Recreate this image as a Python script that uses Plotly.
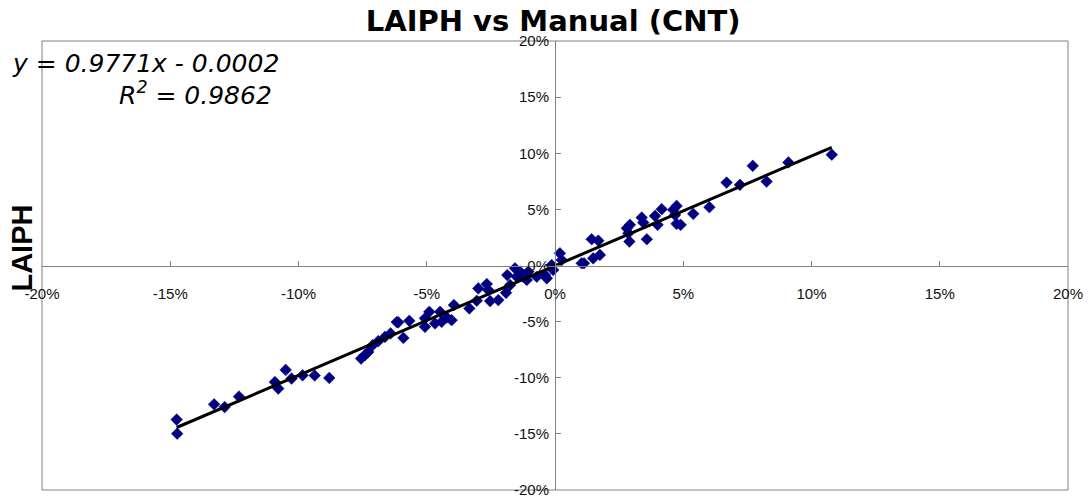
import numpy as np
import plotly.graph_objects as go

# Manual (CNT) vs LAIPH, values in percent
manual_pct = [-14.75, -14.73, -13.29, -12.88, -12.32, -10.92, -10.79, -10.50, -10.27, -9.84,
              -9.37, -8.80, -7.56, -7.41, -7.28, -7.11, -6.89, -6.63, -6.41, -6.17,
              -6.11, -5.91, -5.68, -5.07, -5.07, -4.90, -4.68, -4.48, -4.42, -4.22,
              -4.03, -3.94, -3.34, -3.05, -2.99, -2.66, -2.60, -2.53, -2.21, -1.91,
              -1.86, -1.75, -1.56, -1.49, -1.36, -1.24, -1.10, -1.04, -0.71, -0.39,
              -0.32, -0.13, -0.07, 0.19, 0.26, 1.04, 1.13, 1.43, 1.69, 1.49,
              1.75, 2.80, 2.92, 2.90, 2.86, 3.38, 3.44, 3.58, 3.90, 4.00,
              4.16, 4.61, 4.68, 4.74, 4.74, 4.90, 5.39, 6.02, 6.69, 7.21,
              7.71, 8.25, 9.10, 10.79]
laiph_pct = [-13.73, -14.98, -12.37, -12.61, -11.68, -10.38, -10.96, -9.30, -10.07, -9.78,
             -9.80, -10.02, -8.29, -7.99, -7.70, -7.10, -6.74, -6.36, -6.05, -5.04,
             -5.06, -6.45, -4.93, -5.46, -4.71, -4.13, -5.16, -4.13, -5.02, -4.63,
             -4.87, -3.53, -3.82, -3.14, -2.04, -1.65, -2.19, -3.17, -3.08, -2.43,
             -0.85, -1.74, -0.25, -1.00, -0.55, -1.00, -1.29, -0.55, -1.00, -0.85,
             -1.14, 0.04, -0.40, 1.09, 0.49, 0.20, 0.20, 2.34, 2.21, 0.64,
             0.94, 3.32, 3.62, 2.13, 2.88, 4.27, 3.82, 2.34, 4.42, 3.62,
             5.02, 4.96, 4.51, 5.31, 3.71, 3.62, 4.60, 5.20, 7.39, 7.19,
             8.88, 7.48, 9.18, 9.87]

slope = 0.9771
intercept = -0.0002
r_squared = 0.9862

tick_vals = [-0.20, -0.15, -0.10, -0.05, 0.0, 0.05, 0.10, 0.15, 0.20]
tick_text = ["-20%", "-15%", "-10%", "-5%", "0%", "5%", "10%", "15%", "20%"]

x = np.array(manual_pct) / 100.0
y = np.array(laiph_pct) / 100.0
x_line = np.array([x.min(), x.max()])
y_line = slope * x_line + intercept

fig = go.Figure()
fig.add_trace(go.Scatter(
    x=x, y=y, mode="markers",
    marker=dict(symbol="diamond", size=9, color="#000080",
                line=dict(color="#000080", width=0.5)),
    showlegend=False, hoverinfo="x+y"))
fig.add_trace(go.Scatter(
    x=x_line, y=y_line, mode="lines",
    line=dict(color="black", width=3), showlegend=False, hoverinfo="skip"))

tick_font = dict(family="Liberation Sans, Arial, sans-serif", size=15, color="#111")
axis_common = dict(
    range=[-0.2, 0.2], tickvals=tick_vals, ticktext=tick_text,
    showgrid=False, zeroline=False, showline=True, linecolor="#808080",
    linewidth=1, ticks="inside", ticklen=5, tickcolor="#808080",
    tickfont=tick_font, anchor="free", position=0.5, ticklabeloverflow="allow",
    automargin=False,
)
fig.update_layout(
    width=1091, height=496,
    margin=dict(l=42, r=23, t=41, b=6),
    paper_bgcolor="white", plot_bgcolor="white",
    xaxis=dict(**axis_common, side="bottom", ticklabelstandoff=14),
    yaxis=dict(**axis_common, side="left", ticklabelstandoff=3),
    title=dict(text="<b>LAIPH vs Manual (CNT)</b>", x=0.507, xanchor="center",
               y=0.958, yanchor="middle", yref="container",
               font=dict(family="DejaVu Sans, sans-serif", size=29, color="black")),
    shapes=[dict(type="rect", xref="paper", yref="paper", x0=0, y0=0, x1=1, y1=1,
                 line=dict(color="#808080", width=1), layer="below")],
    annotations=[
        dict(text="<i>y = 0.9771x - 0.0002</i>", xref="paper", yref="paper",
             x=-0.031, y=0.951, xanchor="left", yanchor="middle", showarrow=False,
             font=dict(family="DejaVu Sans, sans-serif", size=25, color="black")),
        dict(text="<i>R<sup>2</sup> = 0.9862</i>", xref="paper", yref="paper",
             x=0.073, y=0.884, xanchor="left", yanchor="middle", showarrow=False,
             font=dict(family="DejaVu Sans, sans-serif", size=25, color="black")),
        dict(text="<b>LAIPH</b>", xref="paper", yref="paper", x=-0.0195, y=0.54,
             xanchor="center", yanchor="middle", textangle=-90, showarrow=False,
             font=dict(family="Liberation Sans, Arial, sans-serif", size=29, color="black")),
    ],
)
fig.write_html("out.html")
